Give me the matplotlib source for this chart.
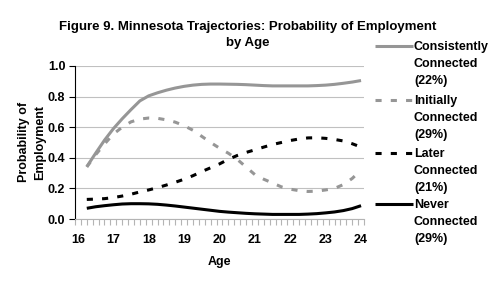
import numpy as np
import matplotlib
matplotlib.use("Agg")
import matplotlib.pyplot as plt
from matplotlib.lines import Line2D
from matplotlib.ticker import FixedLocator

plt.rcParams['font.family'] = ['Liberation Sans', 'DejaVu Sans']
plt.rcParams['font.weight'] = 'bold'

ages = [16.25, 16.5, 16.75, 17.0, 17.25, 17.5, 17.75, 18.0, 18.25, 18.5, 18.75,
        19.0, 19.25, 19.5, 19.75, 20.0, 20.25, 20.5, 20.75, 21.0, 21.25, 21.5,
        21.75, 22.0, 22.25, 22.5, 22.75, 23.0, 23.25, 23.5, 23.75, 24.0]

consistently = [0.342, 0.43, 0.515, 0.59, 0.655, 0.715, 0.772, 0.805, 0.825, 0.842, 0.856,
                0.867, 0.875, 0.88, 0.882, 0.882, 0.881, 0.88, 0.878, 0.875, 0.872, 0.87,
                0.87, 0.87, 0.87, 0.87, 0.872, 0.875, 0.88, 0.887, 0.895, 0.905]
initially = [0.34, 0.42, 0.49, 0.555, 0.60, 0.635, 0.653, 0.66, 0.658, 0.648, 0.633,
             0.61, 0.58, 0.54, 0.50, 0.463, 0.43, 0.39, 0.34, 0.29, 0.26, 0.235,
             0.21, 0.195, 0.185, 0.18, 0.182, 0.19, 0.20, 0.225, 0.265, 0.32]
later = [0.128, 0.13, 0.133, 0.14, 0.15, 0.162, 0.177, 0.19, 0.205, 0.222, 0.24,
         0.26, 0.283, 0.31, 0.335, 0.36, 0.39, 0.415, 0.435, 0.452, 0.47, 0.487,
         0.50, 0.513, 0.523, 0.53, 0.531, 0.527, 0.52, 0.51, 0.492, 0.47]
never = [0.07, 0.08, 0.087, 0.093, 0.098, 0.10, 0.10, 0.099, 0.096, 0.091, 0.085,
         0.078, 0.071, 0.064, 0.057, 0.05, 0.045, 0.041, 0.037, 0.034, 0.032, 0.03,
         0.03, 0.03, 0.03, 0.032, 0.035, 0.04, 0.046, 0.055, 0.068, 0.087]

series_labels = ["Consistently\nConnected\n(22%)", "Initially\nConnected\n(29%)",
                 "Later\nConnected\n(21%)", "Never\nConnected\n(29%)"]
x_ticks = [16, 17, 18, 19, 20, 21, 22, 23, 24]
y_ticks = [0.0, 0.2, 0.4, 0.6, 0.8, 1.0]

GRAY = '#969696'
LW = 2.2
styles = [
    dict(color=GRAY, linestyle='-'),
    dict(color=GRAY, linestyle=(0, (2, 3))),
    dict(color='black', linestyle=(0, (2, 3))),
    dict(color='black', linestyle='-'),
]

fig = plt.figure(figsize=(4.97, 2.90), dpi=100)
ax = fig.add_axes([75/497, 1-219/290, (364-75)/497, (219-66)/290])

for vals, st in zip([consistently, initially, later, never], styles):
    ax.plot(ages, vals, lw=LW, solid_capstyle='butt', dash_capstyle='butt',
            solid_joinstyle='round', **st)

ax.set_ylim(0, 1)
ax.set_xlim(16 - 1/12, 24 + 1/12)
ax.set_yticks(y_ticks)
ax.set_yticklabels([f"{v:.1f}" for v in y_ticks])
ax.set_xticks(x_ticks)
ax.set_xticklabels([str(v) for v in x_ticks])
minor = [16 - 1/12 + k/6 for k in range(50)]
ax.xaxis.set_minor_locator(FixedLocator(minor))
ax.tick_params(axis='x', which='major', length=0, pad=11, labelsize=9)
ax.tick_params(axis='x', which='minor', length=4, color='#b4b4b4', width=0.8)
ax.tick_params(axis='y', which='major', length=4, color='black', width=0.8, labelsize=9, pad=3)
ax.grid(axis='y', color='#c0c0c0', linewidth=0.8)
ax.set_axisbelow(True)
for s in ['top', 'right']:
    ax.spines[s].set_visible(False)
ax.spines['left'].set_color('black')
ax.spines['left'].set_linewidth(0.8)
ax.spines['bottom'].set_color('#b4b4b4')
ax.spines['bottom'].set_linewidth(0.8)

fig.text(219/497, 1-262/290, "Age", ha='center', va='center', fontsize=9, fontweight='bold')
fig.text(32/497, 1-142/290, "Probability of\nEmployment", ha='center', va='center',
         rotation=90, fontsize=9, fontweight='bold', linespacing=1.45)

fig.text(248/497, 1-27/290, "Figure 9. Minnesota Trajectories: Probability of Employment",
         ha='center', va='center', fontsize=9.5, fontweight='bold')
fig.text(248/497, 1-43/290, "by Age", ha='center', va='center', fontsize=9.5, fontweight='bold')

# legend
leg_y = [46, 100, 153, 204]
for lab, st, yy in zip(series_labels, styles, leg_y):
    yf = 1 - yy/290
    fig.add_artist(Line2D([375/497, 413/497], [yf, yf], lw=LW, transform=fig.transFigure,
                          solid_capstyle='butt', dash_capstyle='butt', **st))
    fig.text(414/497, yf + 5/290, lab, ha='left', va='top', fontsize=9,
             fontweight='bold', linespacing=1.55)

fig.savefig("out.png", dpi=100)
